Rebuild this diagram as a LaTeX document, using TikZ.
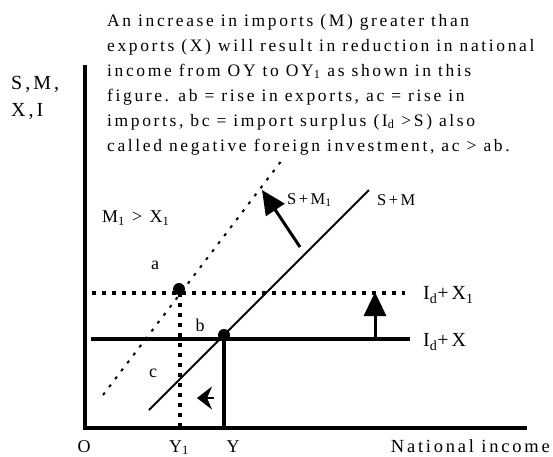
\documentclass[tikz,border=0pt]{standalone}
\usepackage{fontspec}
\setmainfont{Liberation Serif}[LetterSpace=15]
\usetikzlibrary{arrows.meta}
\tikzset{
  axis/.style={line width=3.5pt, line join=miter},
  income/.style={line width=3.3pt},
  dotline/.style={line width=3.3pt, dash pattern=on 4pt off 6pt},
  curve/.style={line width=1.8pt},
  dashcurve/.style={line width=2pt, dash pattern=on 3pt off 7pt},
  movearrow/.style={line width=3pt, -{Triangle[length=24pt,width=22pt]}},
  pt/.style={circle, fill, inner sep=0pt, minimum size=12pt},
  lbl/.style={inner sep=0pt, font=\fontsize{18}{20}\selectfont},
  small/.style={inner sep=0pt, font=\fontsize{16.5}{18}\selectfont}
}
\begin{document}
\begin{tikzpicture}[x=1pt, y=-1pt]
  \useasboundingbox (0,0) rectangle (553,456);
  \node[anchor=north west, align=left, inner sep=0pt, font=\fontsize{17.5}{25}\selectfont] (note) at (107,14)
    {An increase in imports (M) greater than\\
     exports (X) will result in reduction in national\\
     income from OY to OY\textsubscript{1} as shown in this\\
     figure. ab = rise in exports, ac = rise in\\
     imports, bc = import surplus (I\textsubscript{d} >S) also\\
     called  negative foreign investment, ac > ab.};
  \node[anchor=north west, align=left, inner sep=0pt, font=\fontsize{20}{27}\selectfont] (ylab) at (11,76) {S,M,\\X,I};

  \coordinate (top) at (85,65);
  \coordinate (O) at (85,428);
  \coordinate (end) at (527,428);
  \coordinate (a) at (180,293);
  \coordinate (b) at (224,335);
  \coordinate (y1) at (180,428);
  \coordinate (y) at (224,428);
  \coordinate (low) at (91,339);
  \coordinate (lowend) at (410,339);
  \coordinate (high) at (92,293);
  \coordinate (highend) at (405,293);
  \coordinate (sm0) at (149,410);
  \coordinate (sm1) at (369,190);
  \coordinate (smone0) at (103,395);
  \coordinate (smone1) at (282,160);

  \draw[axis] (top) -- (O) -- (end);
  \draw[income] (low) -- (lowend);
  \draw[dotline] (high) -- (highend);
  \draw[income] (224,339) -- (y);
  \draw[dotline] (a) -- (y1);
  \draw[curve] (sm0) -- (sm1);
  \draw[dashcurve] (smone0) -- (smone1);
  \node[pt] (pa) at (179,289) {};
  \node[pt] (pb) at (b) {};

  \coordinate (up0) at (300,247);
  \coordinate (up1) at (262,190);
  \draw[movearrow] (up0) -- (up1);
  \coordinate (rise0) at (375,338);
  \coordinate (rise1) at (375,292);
  \draw[movearrow] (rise0) -- (rise1);
  \coordinate (back0) at (214,398);
  \coordinate (back1) at (197,398);
  \draw[line width=2.5pt, -{Stealth[length=15pt,width=23pt,inset=5pt]}] (back0) -- (back1);

  \node[small, anchor=west] (lsmone) at (287,200) {S+M\textsubscript{1}};
  \node[small, anchor=west] (lsm) at (377,200) {S+M};
  \node[lbl, anchor=west] (lmx) at (102,218) {M\textsubscript{1} > X\textsubscript{1}};
  \node[lbl] (la) at (155,265) {a};
  \node[lbl] (lb) at (200,325) {b};
  \node[lbl] (lc) at (153,373) {c};
  \node[lbl, font=\fontsize{20}{20}\selectfont, anchor=west] (lidxone) at (423,295) {I\textsubscript{d}+X\textsubscript{1}};
  \node[lbl, font=\fontsize{20}{20}\selectfont, anchor=west] (lidx) at (423,342) {I\textsubscript{d}+X};
  \node[lbl, anchor=base] (lo) at (84,452) {O};
  \node[lbl, anchor=base] (ly1) at (179,452) {Y\textsubscript{1}};
  \node[lbl, anchor=base] (ly) at (233,452) {Y};
  \node[lbl, font=\fontsize{18.5}{20}\selectfont, anchor=base east] (lni) at (550,452) {National income};
\end{tikzpicture}
\end{document}
